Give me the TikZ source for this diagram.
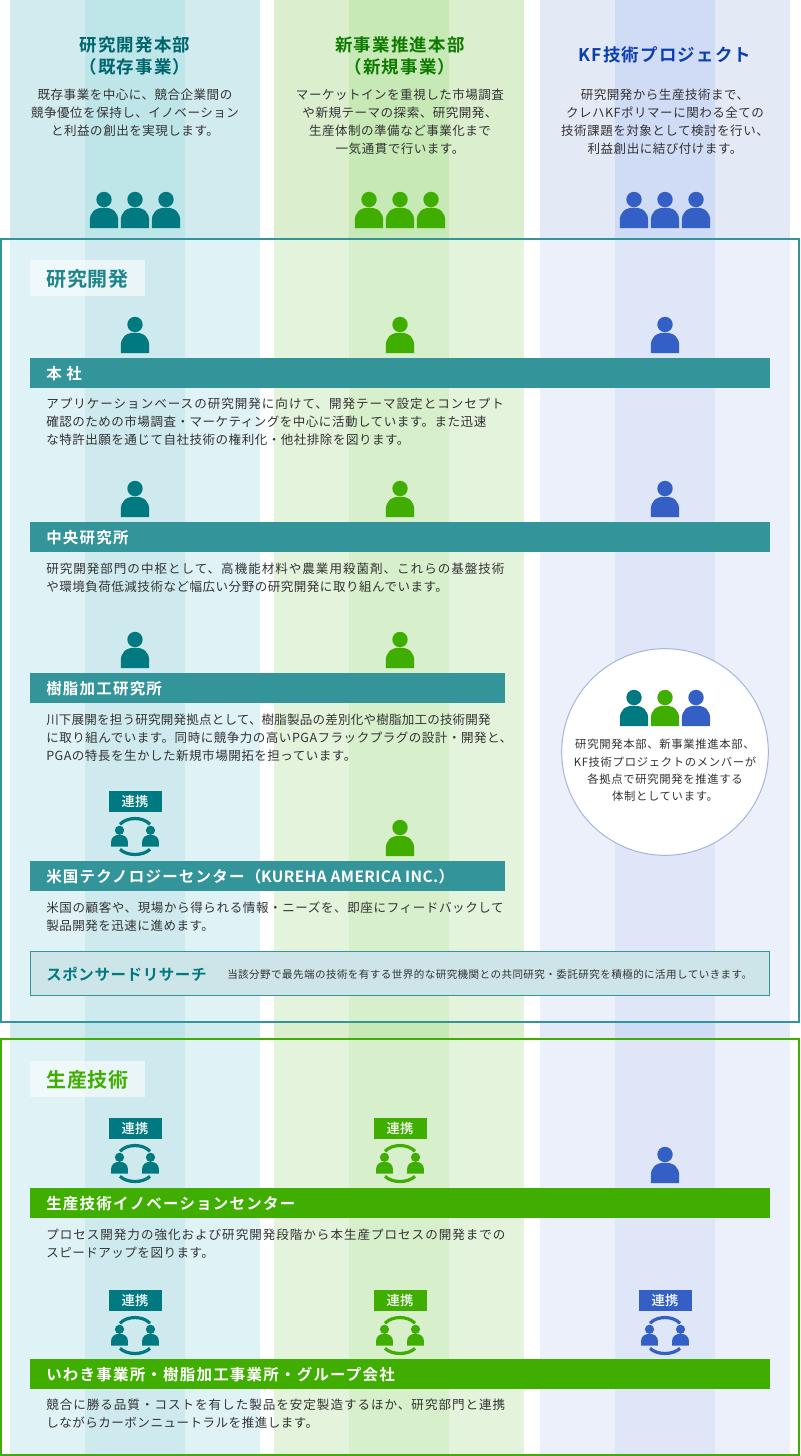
\documentclass[tikz,border=0pt]{standalone}
\usepackage{fontspec}
\setmainfont{Noto Sans CJK JP}
\newfontfamily\bodyf[LetterSpace=4]{Noto Sans CJK JP}
\newfontfamily\headf[LetterSpace=5]{Noto Sans CJK JP Medium}
\newfontfamily\headb[LetterSpace=8]{Noto Sans CJK JP Bold}
\newfontfamily\descf[LetterSpace=4.2]{Noto Sans CJK JP}
\newfontfamily\circf[LetterSpace=6]{Noto Sans CJK JP}
\definecolor{tealA}{HTML}{D2EBEE}\definecolor{tealB}{HTML}{BEE5E8}
\definecolor{greenA}{HTML}{DBEFCF}\definecolor{greenB}{HTML}{C7E9B6}
\definecolor{blueA}{HTML}{E4E9F6}\definecolor{blueB}{HTML}{D0DBF5}
\definecolor{tealC}{HTML}{DFF2F6}\definecolor{tealD}{HTML}{CFEAEE}
\definecolor{greenC}{HTML}{E4F3DC}\definecolor{greenD}{HTML}{D7EFCB}
\definecolor{blueC}{HTML}{ECF0FA}\definecolor{blueD}{HTML}{DFE6F8}
\definecolor{tealI}{HTML}{007A80}\definecolor{greenI}{HTML}{3FAE00}\definecolor{blueI}{HTML}{345FC4}
\definecolor{tealT}{HTML}{00666E}\definecolor{greenT}{HTML}{0E7A00}\definecolor{blueT}{HTML}{0B3FAE}
\definecolor{tealS}{HTML}{1F858C}
\definecolor{tealBar}{HTML}{339499}\definecolor{txt}{HTML}{333333}
\definecolor{spons}{HTML}{CDE4E8}\definecolor{ring}{HTML}{A5B5DE}
\tikzset{
  x=0.75pt,y=-0.75pt,
  body/.style={inner sep=0pt,text=txt,font=\bodyf\fontsize{9.4}{13.5}\selectfont},
  bodyc/.style={body,align=center,anchor=center},
  bodyl/.style={body,align=left,anchor=west},
  dept/.style={inner sep=0pt,align=center,anchor=center,font=\headb\addfontfeature{LetterSpace=7}\fontsize{13.1}{16.5}\selectfont},
  bartext/.style={inner sep=0pt,anchor=west,text=white,font=\headb\fontsize{11.6}{14}\selectfont},
  sect/.style={inner sep=0pt,anchor=center,font=\headb\addfontfeature{LetterSpace=2.5}\fontsize{15}{18}\selectfont},
  badge/.style={inner sep=0pt,anchor=center,text=white,font=\headf\addfontfeature{LetterSpace=1}\fontsize{10}{12}\selectfont},
}
\newcommand\band[7]{%
  \fill[#3] (10,#1) rectangle (260,#2);\fill[#4] (85,#1) rectangle (185,#2);
  \fill[#5] (274,#1) rectangle (524,#2);\fill[#6] (349,#1) rectangle (449,#2);
  \fill[#7] (540,#1) rectangle (790,#2);}
\newcommand\persn[3]{% centre x, bottom y, colour
  \begin{scope}[shift={(#1,#2)}]
    \fill[#3] (0,-28.5) circle (7.7);
    \fill[#3] (-14.2,0) -- (-14.2,-7) .. controls (-14.2,-16) and (-9,-20.3) .. (0,-20.3)
      .. controls (9,-20.3) and (14.2,-16) .. (14.2,-7) -- (14.2,0) -- cycle;
  \end{scope}}
\newcommand\smallp[3]{%
  \begin{scope}[shift={(#1,#2)}]
    \fill[#3] (0,-16.2) circle (4.6);
    \fill[#3] (-8.4,0) -- (-8.4,-4.5) .. controls (-8.4,-9) and (-5,-11.7) .. (0,-11.7)
      .. controls (5,-11.7) and (8.4,-9) .. (8.4,-4.5) -- (8.4,0) -- cycle;
  \end{scope}}
\newcommand\linked[4]{% name, centre x, bar top y, colour
  \fill[#4] (#2-26.5,#3-70) rectangle (#2+26.5,#3-49);
  \node[badge] (#1) at (#2,#3-59.5) {連携};
  \begin{scope}[shift={(#2,#3)}]
    \smallp{-15.5}{-14.5}{#4}\smallp{15.5}{-14.5}{#4}
    \draw[#4,line width=2.4pt] (-15,-36.7) .. controls (-8,-44.4) and (8,-44.4) .. (15,-36.7);
    \draw[#4,line width=2.4pt] (-15,-11.7) .. controls (-8,-4.8) and (8,-4.8) .. (15,-11.7);
  \end{scope}}
\begin{document}
\begin{tikzpicture}
\useasboundingbox (0,0) rectangle (800,1456);
\band{0}{1456}{tealA}{tealB}{greenA}{greenB}{blueA}
\fill[blueB] (615,0) rectangle (715,1456);
\band{238}{1022}{tealC}{tealD}{greenC}{greenD}{blueC}
\fill[blueD] (615,238) rectangle (715,1022);
\band{1039}{1455}{tealC}{tealD}{greenC}{greenD}{blueC}
\fill[blueD] (615,1039) rectangle (715,1455);
\draw[tealBar,line width=1.5pt] (1,238.5) rectangle (799,1022);
\draw[greenI,line width=1.5pt] (1,1039) rectangle (799,1455);
% headers
\node[dept,text=tealT] (h1) at (135,55.5) {研究開発本部\\（既存事業）};
\node[dept,text=greenT] (h2) at (400,55.5) {新事業推進本部\\（新規事業）};
\node[dept,text=blueT] (h3) at (665,54.5) {KF技術プロジェクト};
\node[bodyc] (d1) at (135,113) {既存事業を中心に、競合企業間の\\競争優位を保持し、イノベーション\\と利益の創出を実現します。};
\node[bodyc] (d2) at (400,122) {マーケットインを重視した市場調査\\や新規テーマの探索、研究開発、\\生産体制の準備など事業化まで\\一気通貫で行います。};
\node[bodyc] (d3) at (665,122) {研究開発から生産技術まで、\\クレハKFポリマーに関わる全ての\\技術課題を対象として検討を行い、\\利益創出に結び付けます。};
\foreach \c/\col in {135/tealI,400/greenI,665/blueI}{
  \persn{\c-31}{228}{\col}\persn{\c}{228}{\col}\persn{\c+31}{228}{\col}}
% section R&D
\fill[white,fill opacity=.55] (30,260) rectangle (145,296);
\node[sect,text=tealS] (s1) at (87.5,279) {研究開発};
\foreach \b in {358,522}{\persn{135}{\b-5}{tealI}\persn{400}{\b-5}{greenI}\persn{665}{\b-5}{blueI}}
\persn{135}{668}{tealI}\persn{400}{668}{greenI}
\linked{lk1}{135}{861}{tealI}\persn{400}{856}{greenI}
\fill[tealBar] (30,358) rectangle (770,388);
\node[bartext] (b1) at (46,374) {本 社};
\node[bodyl] (t1) at (46,422) {\addfontfeature{LetterSpace=8}アプリケーションベースの研究開発に向けて、開発テーマ設定とコンセプト\\確認のための市場調査・マーケティングを中心に活動しています。また迅速\\な特許出願を通じて自社技術の権利化・他社排除を図ります。};
\fill[tealBar] (30,522) rectangle (770,552);
\node[bartext] (b2) at (46,538) {中央研究所};
\node[bodyl] (t2) at (46,578) {\addfontfeature{LetterSpace=8}研究開発部門の中枢として、高機能材料や農業用殺菌剤、これらの基盤技術\\や環境負荷低減技術など幅広い分野の研究開発に取り組んでいます。};
\fill[tealBar] (30,673) rectangle (505,703);
\node[bartext] (b3) at (46,689) {樹脂加工研究所};
\node[bodyl] (t3) at (46,738) {\addfontfeature{LetterSpace=1.6}川下展開を担う研究開発拠点として、樹脂製品の差別化や樹脂加工の技術開発\\に取り組んでいます。同時に競争力の高いPGAフラックプラグの設計・開発と、\\PGAの特長を生かした新規市場開拓を担っています。};
\fill[tealBar] (30,861) rectangle (505,891);
\node[bartext] (b4) at (46,877) {米国テクノロジーセンター（\addfontfeature{LetterSpace=2.5}KUREHA AMERICA INC.）};
\node[bodyl] (t4) at (46,917) {\addfontfeature{LetterSpace=4.8}米国の顧客や、現場から得られる情報・ニーズを、即座にフィードバックして\\製品開発を迅速に進めます。};
\draw[tealBar,fill=spons,line width=.75pt] (30.5,951.5) rectangle (769.5,995.5);
\node[inner sep=0pt,anchor=west,text=tealI,font=\headb\addfontfeature{LetterSpace=4}\fontsize{11.6}{14}\selectfont] (sp) at (46,974) {スポンサードリサーチ};
\node[inner sep=0pt,anchor=west,text=txt,font=\descf\fontsize{7.9}{12}\selectfont] (spd) at (227,974) {当該分野で最先端の技術を有する世界的な研究機関との共同研究・委託研究を積極的に活用していきます。};
% circle
\node[circle,draw=ring,fill=white,line width=.75pt,minimum size=155pt,inner sep=0pt] (cc) at (665,752) {};
\persn{634}{726}{tealI}\persn{665}{726}{greenI}\persn{696}{726}{blueI}
\node[inner sep=0pt,align=center,text=txt,font=\circf\fontsize{8.5}{13}\selectfont] (ct) at (665,770.5) {研究開発本部、新事業推進本部、\\KF技術プロジェクトのメンバーが\\各拠点で研究開発を推進する\\体制としています。};
% section production
\fill[white,fill opacity=.55] (30,1061) rectangle (145,1097);
\node[sect,text=greenI] (s2) at (87.5,1080) {生産技術};
\linked{lk2}{135}{1188}{tealI}\linked{lk3}{400}{1188}{greenI}\persn{665}{1183}{blueI}
\fill[greenI] (30,1188) rectangle (770,1218);
\node[bartext] (b5) at (46,1204) {生産技術イノベーションセンター};
\node[bodyl] (t5) at (46,1244) {\addfontfeature{LetterSpace=8}プロセス開発力の強化および研究開発段階から本生産プロセスの開発までの\\スピードアップを図ります。};
\linked{lk4}{135}{1360}{tealI}\linked{lk5}{400}{1360}{greenI}\linked{lk6}{665}{1360}{blueI}
\fill[greenI] (30,1359) rectangle (770,1389);
\node[bartext] (b6) at (46,1375) {いわき事業所・樹脂加工事業所・グループ会社};
\node[bodyl] (t6) at (46,1414) {\addfontfeature{LetterSpace=8}競合に勝る品質・コストを有した製品を安定製造するほか、研究部門と連携\\しながらカーボンニュートラルを推進します。};
\end{tikzpicture}
\end{document}
